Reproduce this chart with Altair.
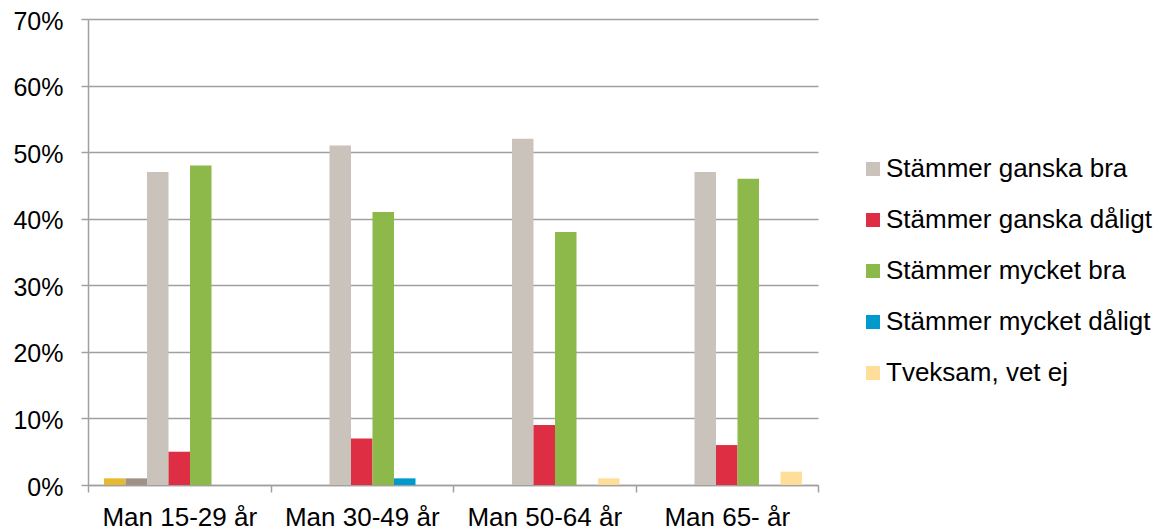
import altair as alt
import pandas as pd

categories = ["Man 15-29 år", "Man 30-49 år", "Man 50-64 år", "Man 65- år"]
series = [
    "Ej svar",
    "Övrigt",
    "Stämmer ganska bra",
    "Stämmer ganska dåligt",
    "Stämmer mycket bra",
    "Stämmer mycket dåligt",
    "Tveksam, vet ej",
]
legend_series = series[2:]
colors = ["#E6B92F", "#9E9284", "#C9C3BC", "#DD2E44", "#8DB84A", "#009ACD", "#FFDE99"]

ej_svar = [1, 0, 0, 0]
ovrigt = [1, 0, 0, 0]
ganska_bra = [47, 51, 52, 47]
ganska_daligt = [5, 7, 9, 6]
mycket_bra = [48, 41, 38, 46]
mycket_daligt = [0, 1, 0, 0]
tveksam = [0, 0, 1, 2]

all_values = [ej_svar, ovrigt, ganska_bra, ganska_daligt, mycket_bra, mycket_daligt, tveksam]
rows = []
for s, vals in zip(series, all_values):
    for c, v in zip(categories, vals):
        rows.append({"group": c, "series": s, "value": v / 100})
df = pd.DataFrame(rows)

FONT = "Liberation Sans"
GRID = "#A0A0A0"

chart = (
    alt.Chart(df)
    .mark_bar()
    .encode(
        x=alt.X(
            "group:N",
            sort=categories,
            scale=alt.Scale(paddingInner=0, paddingOuter=0),
            axis=alt.Axis(
                title=None,
                labelAngle=0,
                tickBand="extent",
                grid=False,
                domainColor=GRID,
                domainWidth=1.5,
                tickColor=GRID,
                tickWidth=1.5,
                tickSize=7,
                labelFontSize=26,
                labelFont=FONT,
                labelColor="#000000",
                labelPadding=12,
            ),
        ),
        xOffset=alt.XOffset(
            "series:N",
            sort=series,
            scale=alt.Scale(domain=series, paddingInner=0, paddingOuter=0.744),
        ),
        y=alt.Y(
            "value:Q",
            scale=alt.Scale(domain=[0, 0.7], nice=False),
            axis=alt.Axis(
                title=None,
                values=[0, 0.1, 0.2, 0.3, 0.4, 0.5, 0.6, 0.7],
                format=".0%",
                grid=True,
                gridColor=GRID,
                gridWidth=1.5,
                domainColor=GRID,
                domainWidth=1.5,
                tickColor=GRID,
                tickWidth=1.5,
                tickSize=7,
                labelFontSize=25,
                labelFont=FONT,
                labelColor="#000000",
                labelPadding=18,
                labelOffset=2,
            ),
        ),
        color=alt.Color(
            "series:N",
            scale=alt.Scale(domain=series, range=colors),
            legend=alt.Legend(
                title=None,
                values=legend_series,
                orient="none",
                legendX=772,
                legendY=137,
                symbolType="square",
                symbolSize=196,
                symbolStrokeWidth=0,
                symbolOpacity=1,
                labelFontSize=26,
                labelFont=FONT,
                labelColor="#000000",
                labelOffset=0,
                rowPadding=25,
                padding=0,
                labelLimit=400,
            ),
        ),
    )
    .properties(
        width=730,
        height=466,
        autosize=alt.AutoSizeParams(type="none"),
        padding={"left": 80, "top": 11, "right": 337, "bottom": 47},
    )
    .configure_view(stroke=None)
)

chart.save("out.html", embed_options={"renderer": "svg", "actions": False})
